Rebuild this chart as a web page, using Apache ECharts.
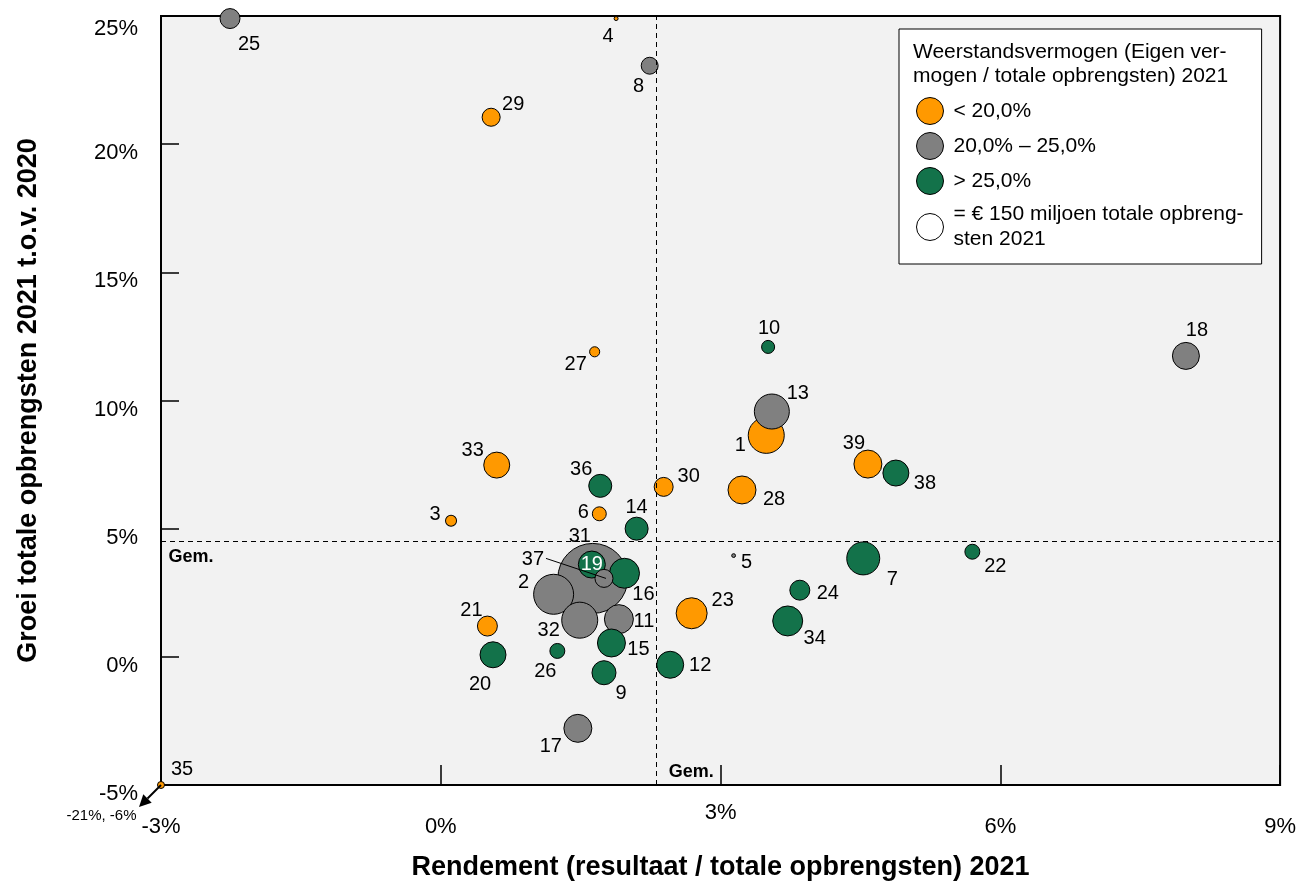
<!DOCTYPE html>
<html><head><meta charset="utf-8">
<script src="https://cdn.jsdelivr.net/npm/echarts@6/dist/echarts.min.js"></script>
<style>html,body{margin:0;padding:0;background:#fff;overflow:hidden}#c{width:100vw;height:100vh}</style>
</head><body><div id="c"></div>
<script>
const FONT = '"Liberation Sans", Arial, Helvetica, sans-serif';

// ---- data ----
const ids        = [1,2,3,4,5,6,7,8,9,10,11,12,13,14,15,16,17,18,19,20,21,22,23,24,25,26,27,28,29,30,31,32,33,34,35,36,37,38,39];
const rendement  = [3.49,1.21,0.11,1.88,3.14,1.70,4.53,2.24,1.75,3.51,1.91,2.46,3.55,2.10,1.83,1.97,1.47,7.99,1.62,0.56,0.50,5.70,2.69,3.85,-2.26,1.25,1.65,3.23,0.54,2.39,1.63,1.49,0.60,3.72,-21,1.71,1.75,4.88,4.58];
const groei      = [8.64,2.44,5.31,24.9,3.95,5.58,3.84,23.06,-0.62,12.09,1.47,-0.31,9.57,5.0,0.54,3.26,-2.79,11.74,3.6,0.08,1.2,4.1,1.7,2.6,24.9,0.23,11.9,6.51,21.05,6.63,3.06,1.43,7.48,1.40,-6,6.67,3.06,7.17,7.52];
const opbrengsten= [267,329,25,3.3,3,40,224,59,119,35,173,150,252,109,161,185,161,150,150,139,82,46,198,82,82,46,21,161,67,74,1008,267,139,185,10,109,67,139,161];
const groep      = [0,1,0,0,1,0,2,1,2,2,1,2,1,2,2,2,1,1,2,2,0,2,0,2,1,2,0,0,0,0,1,1,0,2,0,2,1,2,0];
const groupNames = ['< 20,0%', '20,0% \u2013 25,0%', '> 25,0%'];
const sizeName   = '= \u20ac 150 miljoen totale opbreng-\nsten 2021';
const refOpbrengsten = 150;
const gemRendement = 2.31;
const gemGroei = 4.5;
const xTicks = [-3, 0, 3, 6, 9];
const yTicks = [-5, 0, 5, 10, 15, 20, 25];
const xTitle = 'Rendement (resultaat / totale opbrengsten) 2021';
const yTitle = 'Groei totale opbrengsten 2021 t.o.v. 2020';
const legendTitle = 'Weerstandsvermogen (Eigen ver-\nmogen / totale opbrengsten) 2021';

// ---- styles ----
const groupColors = ['#FF9900', '#808080', '#13724A'];
const refDiameter = 27;
const labelOffset = {
  1:[-26,10], 2:[-30,-12], 3:[-16,-6], 4:[-8,18], 5:[13,7], 6:[-16,-1], 7:[29,21], 8:[-11,21],
  9:[17,21], 10:[1,-18], 11:[25,2], 12:[30,1], 13:[26,-18], 14:[0,-21], 15:[27,6], 16:[19,21],
  17:[-27,18], 18:[11,-25], 19:[0,0], 20:[-13,30], 21:[-16,-16], 22:[23,15], 23:[31,-13], 24:[28,3],
  25:[19,26], 26:[-12,21], 27:[-19,13], 28:[32,10], 29:[22,-13], 30:[25,-10], 31:[-13,-42], 32:[-31,10],
  33:[-24,-15], 34:[27,18], 35:[21,-16], 36:[-19,-16], 37:[-71,-19], 38:[29,10], 39:[-14,-21]
};

const xMin = xTicks[0], xMax = xTicks[xTicks.length-1];
const yMin = yTicks[0], yMax = yTicks[yTicks.length-1];
const clamp = (v, a, b) => Math.max(a, Math.min(b, v));

const points = ids.map((id, i) => ({
  id, g: groep[i], rev: opbrengsten[i],
  rx: rendement[i], ry: groei[i],
  x: clamp(rendement[i], xMin, xMax), y: clamp(groei[i], yMin, yMax)
})).sort((a, b) => b.rev - a.rev);

const mainData = points.map(p => ({
  value: [p.x, p.y, p.rev, p.id],
  itemStyle: { color: groupColors[p.g], borderColor: '#000', borderWidth: 1, opacity: 1 },
  label: { offset: labelOffset[p.id], color: p.id === 19 ? '#fff' : '#000' }
}));

const chart = echarts.init(document.getElementById('c'), null, { renderer: 'canvas' });

const legendSeries = groupNames.map((n, i) => ({
  type: 'scatter', name: n, data: [],
  itemStyle: { color: groupColors[i], borderColor: '#000', borderWidth: 1, opacity: 1 }
}));
legendSeries.push({
  type: 'scatter', name: sizeName, data: [],
  itemStyle: { color: '#fff', borderColor: '#000', borderWidth: 1, opacity: 1 }
});

const option = {
  animation: false,
  backgroundColor: '#fff',
  textStyle: { fontFamily: FONT },
  title: {
    text: legendTitle, left: 913, top: 40, padding: 0, z: 10,
    textStyle: { fontFamily: FONT, fontSize: 21, fontWeight: 'normal', color: '#000', lineHeight: 24 }
  },
  legend: {
    orient: 'vertical', left: 899, top: 29,
    padding: [68, 18, 12, 17],
    itemWidth: 27, itemHeight: 27, itemGap: 7,
    icon: 'circle', selectedMode: false,
    backgroundColor: '#fff', borderColor: '#000', borderWidth: 1,
    textStyle: { fontFamily: FONT, fontSize: 21, color: '#000', lineHeight: 25, padding: [0, 0, 0, 5] },
    itemStyle: { borderColor: '#000', borderWidth: 1, opacity: 1 },
    data: groupNames.concat([sizeName])
  },
  grid: {
    left: 161, right: 17, top: 16, bottom: 96,
    show: true, backgroundColor: '#F2F2F2', borderColor: '#000', borderWidth: 2
  },
  xAxis: {
    type: 'value', min: xMin, max: xMax, interval: 3,
    name: xTitle, nameLocation: 'middle', nameGap: 69,
    nameTextStyle: { fontFamily: FONT, fontSize: 27, fontWeight: 'bold', color: '#000' },
    axisLine: { show: true, onZero: false, lineStyle: { color: '#000', width: 2 } },
    axisTick: { show: true, inside: true, length: 20, lineStyle: { color: '#000', width: 1.5 } },
    splitLine: { show: false },
    axisLabel: {
      margin: 17, color: '#000', fontSize: 22, fontFamily: FONT,
      formatter: v => v === 3 ? '{hi|' + v + '%}' : '{lo|' + v + '%}',
      rich: {
        hi: { fontSize: 22, fontFamily: FONT, color: '#000' },
        lo: { fontSize: 22, fontFamily: FONT, color: '#000', padding: [14, 0, 0, 0] }
      }
    }
  },
  yAxis: {
    type: 'value', min: yMin, max: yMax, interval: 5,
    name: yTitle, nameLocation: 'middle', nameGap: 119,
    nameTextStyle: { fontFamily: FONT, fontSize: 27, fontWeight: 'bold', color: '#000' },
    axisLine: { show: true, onZero: false, lineStyle: { color: '#000', width: 2 } },
    axisTick: { show: true, inside: true, length: 18, lineStyle: { color: '#000', width: 1.5 } },
    splitLine: { show: false },
    axisLabel: {
      margin: 23, color: '#000', fontSize: 22, fontFamily: FONT,
      formatter: v => v === yMax ? '{t|' + v + '%}' : '{n|' + v + '%}',
      rich: {
        t: { fontSize: 22, fontFamily: FONT, color: '#000', padding: [26, 0, 0, 0] },
        n: { fontSize: 22, fontFamily: FONT, color: '#000', padding: [18, 0, 0, 0] }
      }
    }
  },
  series: legendSeries.concat([
    {
      type: 'scatter', name: 'Gem.', z: 2, clip: false, silent: true,
      symbolSize: 1, itemStyle: { color: 'rgba(0,0,0,0)', opacity: 1 },
      data: [
        { value: [gemRendement, yMin], label: { offset: [35, -13] } },
        { value: [xMin, gemGroei], label: { offset: [30, 16] } }
      ],
      label: { show: true, position: 'inside', formatter: 'Gem.', fontFamily: FONT, fontSize: 18, fontWeight: 'bold', color: '#000', opacity: 1 },
      emphasis: { disabled: true },
      markLine: {
        silent: true, symbol: ['none', 'none'], animation: false,
        label: { show: false },
        lineStyle: { color: '#000', type: [5, 4], width: 1, opacity: 1 },
        data: [{ xAxis: gemRendement }, { yAxis: gemGroei }]
      }
    },
    {
      type: 'scatter', name: 'Instellingen', z: 3, clip: false,
      data: mainData,
      symbolSize: d => refDiameter * Math.sqrt(d[2] / refOpbrengsten),
      itemStyle: { opacity: 1 },
      label: {
        show: true, position: 'inside', fontFamily: FONT, fontSize: 20,
        formatter: p => String(p.value[3])
      },
      emphasis: { disabled: true }
    }
  ])
};
chart.setOption(option);

// annotations derived from the scales
const graphics = [];
const p35 = points.find(p => p.id === 35);
if (p35) {
  const c = chart.convertToPixel({ xAxisIndex: 0, yAxisIndex: 0 }, [p35.x, p35.y]);
  graphics.push({
    type: 'line', z: 100, silent: true,
    shape: { x1: c[0], y1: c[1], x2: c[0] - 13.5, y2: c[1] + 13.5 },
    style: { stroke: '#000', lineWidth: 2 }
  });
  graphics.push({
    type: 'polygon', z: 100, silent: true,
    shape: { points: [[c[0] - 22, c[1] + 22], [c[0] - 9.3, c[1] + 17.7], [c[0] - 17.7, c[1] + 9.3]] },
    style: { fill: '#000' }
  });
  graphics.push({
    type: 'text', z: 100, silent: true,
    x: c[0] - 59.5, y: c[1] + 31,
    style: { text: p35.rx + '%, ' + p35.ry + '%', fontFamily: FONT, fontSize: 15, fill: '#000', align: 'center', verticalAlign: 'middle' }
  });
}
const p37 = points.find(p => p.id === 37);
if (p37) {
  const c = chart.convertToPixel({ xAxisIndex: 0, yAxisIndex: 0 }, [p37.x, p37.y]);
  graphics.push({
    type: 'line', z: 100, silent: true,
    shape: { x1: c[0] - 58, y1: c[1] - 20, x2: c[0] + 2, y2: c[1] },
    style: { stroke: '#000', lineWidth: 1 }
  });
}
chart.setOption({ graphic: graphics });
</script>
</body></html>
